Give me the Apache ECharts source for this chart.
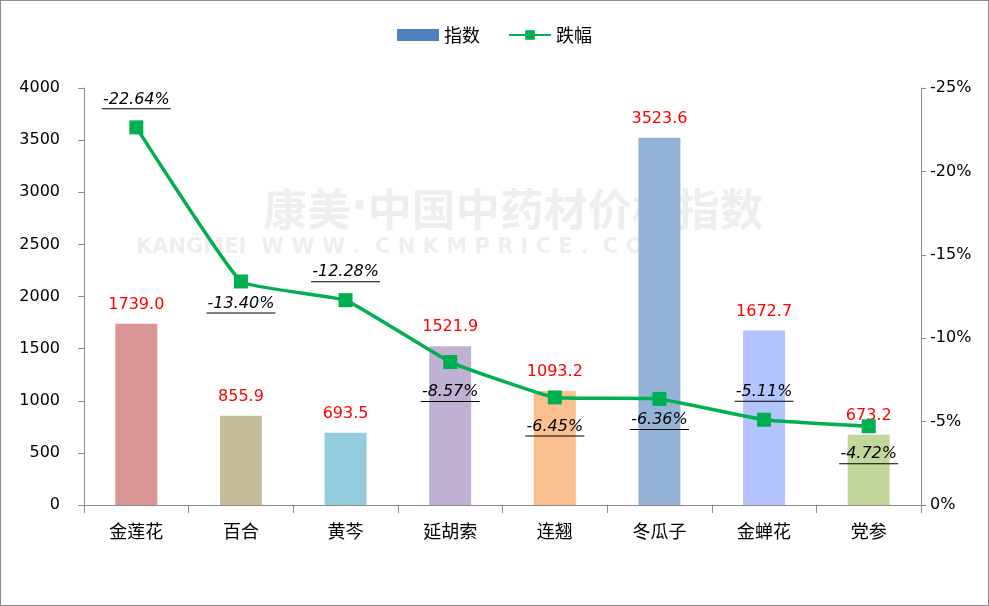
<!DOCTYPE html>
<html>
<head>
<meta charset="utf-8">
<script src="https://cdn.jsdelivr.net/npm/echarts@6/dist/echarts.min.js"></script>
<style>
  html, body { margin: 0; padding: 0; background: #fff; }
  #main { width: 987px; height: 604px; border: 1px solid #8c8c8c; }
</style>
</head>
<body>
<div id="main"></div>
<script>
// data
let categories = ["金莲花", "百合", "黄芩", "延胡索", "连翘", "冬瓜子", "金蝉花", "党参"]
let indexValues = [1739.0, 855.9, 693.5, 1521.9, 1093.2, 3523.6, 1672.7, 673.2]
let dropValues = [-22.64, -13.40, -12.28, -8.57, -6.45, -6.36, -5.11, -4.72]
let barColors = ["#D99694", "#C4BD97", "#93CDDD", "#C0B0D4", "#FAC090", "#95B3D7", "#B3C5FF", "#C3D69B"]
let labelAbove = [true, false, true, false, false, false, true, false]
let labelGap = [10, 7, 10, 15, 14, 6, 10, 13]

const NUM_FONT = "'DejaVu Sans', 'Noto Sans CJK SC', sans-serif"
const CJK_FONT = "'Noto Sans CJK SC', 'DejaVu Sans', sans-serif"

// measure label text so the fake underline matches its width
let ctx = document.createElement("canvas").getContext("2d")
ctx.font = "italic 16px " + NUM_FONT
function textWidth(s) {
    return Math.round(ctx.measureText(s).width) + 2
}

let lineData = dropValues.map((v, i) => {
    let txt = v.toFixed(2) + "%"
    let w = textWidth(txt)
    return {
        value: v,
        label: {
            position: labelAbove[i] ? "top" : "bottom",
            distance: labelGap[i],
            formatter: "{t|" + txt + "}\n{u|}",
            rich: {
                t: { fontStyle: "italic", fontSize: 16, color: "#000", fontFamily: NUM_FONT, lineHeight: 16 },
                u: { width: w, height: 1, lineHeight: 3, backgroundColor: "#000" }
            }
        }
    }
})

let barData = indexValues.map((v, i) => ({
    value: v,
    itemStyle: { color: barColors[i] }
}))

var myChart = echarts.init(document.getElementById("main"))

var option = {
    animation: false,
    textStyle: { fontFamily: NUM_FONT },
    legend: {
        top: 20,
        left: "center",
        itemGap: 28,
        itemWidth: 42,
        itemHeight: 12,
        textStyle: { fontSize: 18, color: "#000", fontFamily: CJK_FONT },
        data: [
            { name: "指数", icon: "rect", itemStyle: { color: "#4F81BD" } },
            { name: "跌幅" }
        ]
    },
    graphic: [
        {
            type: "text",
            left: 262,
            top: 186,
            silent: true,
            z: 0,
            style: {
                text: "{a|康美}{b|·}{a|中国中药材价格指数}",
                fill: "rgba(0,0,0,0.065)",
                rich: {
                    a: { fontSize: 44, fontWeight: "bold", fontFamily: CJK_FONT, fill: "rgba(0,0,0,0.065)" },
                    b: { fontSize: 44, fontWeight: "bold", fontFamily: NUM_FONT, fill: "rgba(0,0,0,0.065)" }
                }
            }
        },
        {
            type: "text",
            left: 135,
            top: 236,
            silent: true,
            z: 0,
            style: {
                text: "KANGMEI  W W W .  C N K M P R I C E .  C O M",
                fontSize: 21,
                fontWeight: "bold",
                fill: "rgba(0,0,0,0.065)",
                fontFamily: NUM_FONT
            }
        }
    ],
    grid: { left: 83, right: 67, top: 87, bottom: 100 },
    xAxis: {
        type: "category",
        data: categories,
        axisLine: { lineStyle: { color: "#8c8c8c" } },
        axisTick: { show: true, length: 8, lineStyle: { color: "#8c8c8c" } },
        axisLabel: { color: "#000", fontSize: 18, margin: 17, fontFamily: CJK_FONT }
    },
    yAxis: [
        {
            type: "value",
            min: 0,
            max: 4000,
            interval: 500,
            splitLine: { show: false },
            axisLine: { show: true, lineStyle: { color: "#8c8c8c" } },
            axisTick: { show: true, length: 6, lineStyle: { color: "#8c8c8c" } },
            axisLabel: { color: "#000", fontSize: 16, margin: 24, fontFamily: NUM_FONT, formatter: v => String(v) }
        },
        {
            type: "value",
            min: -25,
            max: 0,
            interval: 5,
            inverse: true,
            splitLine: { show: false },
            axisLine: { show: true, lineStyle: { color: "#8c8c8c" } },
            axisTick: { show: true, length: 5, lineStyle: { color: "#8c8c8c" } },
            axisLabel: { color: "#000", fontSize: 16, margin: 9, fontFamily: NUM_FONT, formatter: "{value}%" }
        }
    ],
    series: [
        {
            name: "指数",
            type: "bar",
            barWidth: 42,
            itemStyle: { color: "#4F81BD" },
            data: barData,
            label: {
                show: true,
                position: "top",
                distance: 11,
                color: "#FF0000",
                fontSize: 16,
                fontFamily: NUM_FONT,
                formatter: p => p.value.toFixed(1)
            }
        },
        {
            name: "跌幅",
            type: "line",
            yAxisIndex: 1,
            smooth: 0.1,
            symbol: "rect",
            symbolSize: 14,
            z: 5,
            itemStyle: { color: "#00B050" },
            lineStyle: { color: "#00B050", width: 3.5 },
            label: { show: true },
            data: lineData
        }
    ]
}

myChart.setOption(option)
</script>
</body>
</html>
